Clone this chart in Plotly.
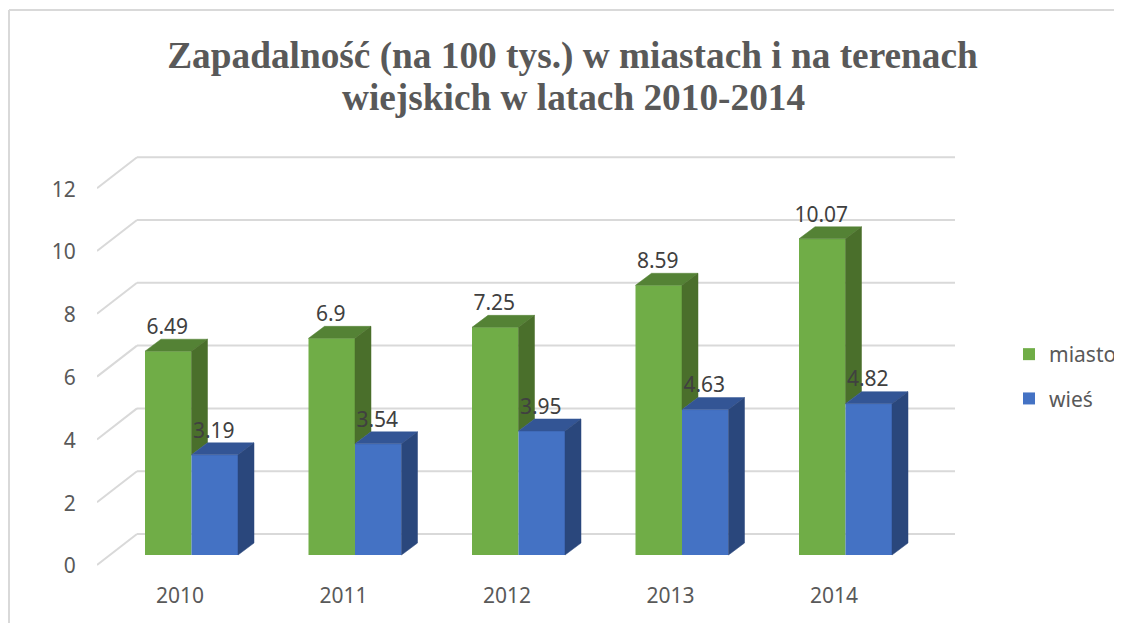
import plotly.graph_objects as go

years = [2010, 2011, 2012, 2013, 2014]
miasto = [6.49, 6.9, 7.25, 8.59, 10.07]
wies = [3.19, 3.54, 3.95, 4.63, 4.82]
y_ticks = [0, 2, 4, 6, 8, 10, 12]
title_lines = ["Zapadalność (na 100 tys.) w miastach i na terenach",
               "wiejskich w latach 2010-2014"]

PAD = 8        # page margin of the browser body
W, H = 1122 - PAD, 623 - PAD
L, R, T, B = 97 - PAD, 960 - PAD, 140 - PAD, 575 - PAD
PX_X = 163.5   # pixels per year
PX_Y = 31.4    # pixels per value unit
X0 = 180 - PAD # pixel of first year tick
Y0 = 555 - PAD # pixel of value 0 on bar front plane

BAR_W = 46.5 / PX_X
OFF_M = (145 - PAD - X0) / PX_X
OFF_W = OFF_M + BAR_W
DX = 16 / PX_X
DY = 12 / PX_Y

GREEN, GREEN_SIDE, GREEN_TOP = "#70AD47", "#4A6F2B", "#548235"
BLUE, BLUE_SIDE, BLUE_TOP = "#4472C4", "#2A477C", "#335595"
GRID = "#D9D9D9"
TEXT = "#595959"
FONT = "Noto Sans"
FS = 21
TITLE_FS = 37.3

xval = lambda px: years[0] + (px - PAD - X0) / PX_X


def poly(xs, ys, color):
    return go.Scatter(x=xs + xs[:1], y=ys + ys[:1], mode="lines", fill="toself",
                      fillcolor=color, line=dict(color=color, width=0.5),
                      showlegend=False, hoverinfo="skip")


fig = go.Figure()
fig.add_bar(x=years, y=miasto, name="miasto", offset=OFF_M, width=BAR_W,
            marker=dict(color=GREEN, line=dict(width=0)), legendgroup="a")
fig.add_bar(x=years, y=wies, name="wieś", offset=OFF_W, width=BAR_W,
            marker=dict(color=BLUE, line=dict(width=0)), legendgroup="b")

for yr, m, w in zip(years, miasto, wies):
    a = yr + OFF_M
    b = a + BAR_W
    c = b + BAR_W
    fig.add_trace(poly([a, b, b + DX, a + DX], [m, m, m + DY, m + DY], GREEN_TOP))
    fig.add_trace(poly([b, b + DX, b + DX, b], [m, m + DY, w + DY, w], GREEN_SIDE))
    fig.add_trace(poly([b, c, c + DX, b + DX], [w, w, w + DY, w + DY], BLUE_TOP))
    fig.add_trace(poly([c, c + DX, c + DX, c], [0, DY, w + DY, w], BLUE_SIDE))

# value labels
LABEL_UP = 12 / PX_Y
for vals, off, nudge in ((miasto, OFF_M, -1 / PX_X), (wies, OFF_W, -1 / PX_X)):
    fig.add_trace(go.Scatter(x=[y + off + BAR_W / 2 + nudge for y in years],
                             y=[v + LABEL_UP for v in vals], text=[str(v) for v in vals],
                             mode="text", textposition="top center",
                             textfont=dict(family=FONT, size=FS, color="#404040"),
                             showlegend=False, hoverinfo="skip"))
# carries the shifted value axis
fig.add_trace(go.Scatter(x=[years[0]], y=[0], yaxis="y2", mode="lines",
                         showlegend=False, hoverinfo="skip"))

# perspective gridlines
F = -10 / PX_Y
K = 21 / PX_Y
shapes = []
for t in y_ticks:
    shapes.append(dict(type="line", xref="x", yref="y", layer="below",
                       x0=xval(97), y0=t + F, x1=xval(137), y1=t + K,
                       line=dict(color=GRID, width=2)))
    shapes.append(dict(type="line", xref="x", yref="y", layer="below",
                       x0=xval(137), y0=t + K, x1=xval(955), y1=t + K,
                       line=dict(color=GRID, width=2)))
# outer frame (given in page pixels)
px = lambda X: (X - PAD - L) / (R - L)
py = lambda Y: 1 - (Y - PAD - T) / (B - T)
for x0, y0, x1, y1 in [(9, 10, 9, 623), (9, 10, 1122, 10)]:
    shapes.append(dict(type="line", xref="paper", yref="paper", layer="below",
                       x0=px(x0), y0=py(y0), x1=px(x1), y1=py(y1),
                       line=dict(color=GRID, width=2)))

fig.update_layout(
    width=W, height=H, autosize=False,
    margin=dict(l=L, r=W - R, t=T, b=H - B, autoexpand=False),
    paper_bgcolor="white", plot_bgcolor="rgba(0,0,0,0)",
    barmode="overlay", shapes=shapes,
    title=dict(text=title_lines[0], x=(572.5 - PAD) / W, xanchor="center",
               y=1 - (55 - PAD) / H, yanchor="middle",
               font=dict(family="Liberation Serif", size=TITLE_FS, color=TEXT, weight="bold")),
    annotations=[dict(text=title_lines[1], xref="paper", yref="paper",
                      x=px(573), y=py(97), xanchor="center", yanchor="middle",
                      showarrow=False,
                      font=dict(family="Liberation Serif", size=TITLE_FS, color=TEXT, weight="bold"))],
    xaxis=dict(range=[xval(97), xval(960)], tickvals=years, ticktext=[str(y) for y in years],
               showgrid=False, zeroline=False, showline=False,
               ticks="outside", ticklen=2, tickcolor="rgba(0,0,0,0)",
               tickfont=dict(family=FONT, size=FS, color=TEXT)),
    yaxis=dict(range=[(Y0 - B) / PX_Y, (Y0 - T) / PX_Y], showticklabels=False,
               showgrid=False, zeroline=False, showline=False, ticks=""),
    yaxis2=dict(overlaying="y", side="left", anchor="x",
                range=[(566 - PAD - B) / PX_Y, (566 - PAD - T) / PX_Y], tickvals=y_ticks,
                showgrid=False, zeroline=False, showline=False,
                ticks="outside", ticklen=16, tickcolor="rgba(0,0,0,0)",
                tickfont=dict(family=FONT, size=FS, color=TEXT)),
    legend=dict(x=px(1009), y=py(334), xanchor="left", yanchor="top",
                font=dict(family=FONT, size=FS, color=TEXT),
                traceorder="grouped", tracegroupgap=14, bgcolor="rgba(0,0,0,0)"),
)
fig.write_html("out.html")
